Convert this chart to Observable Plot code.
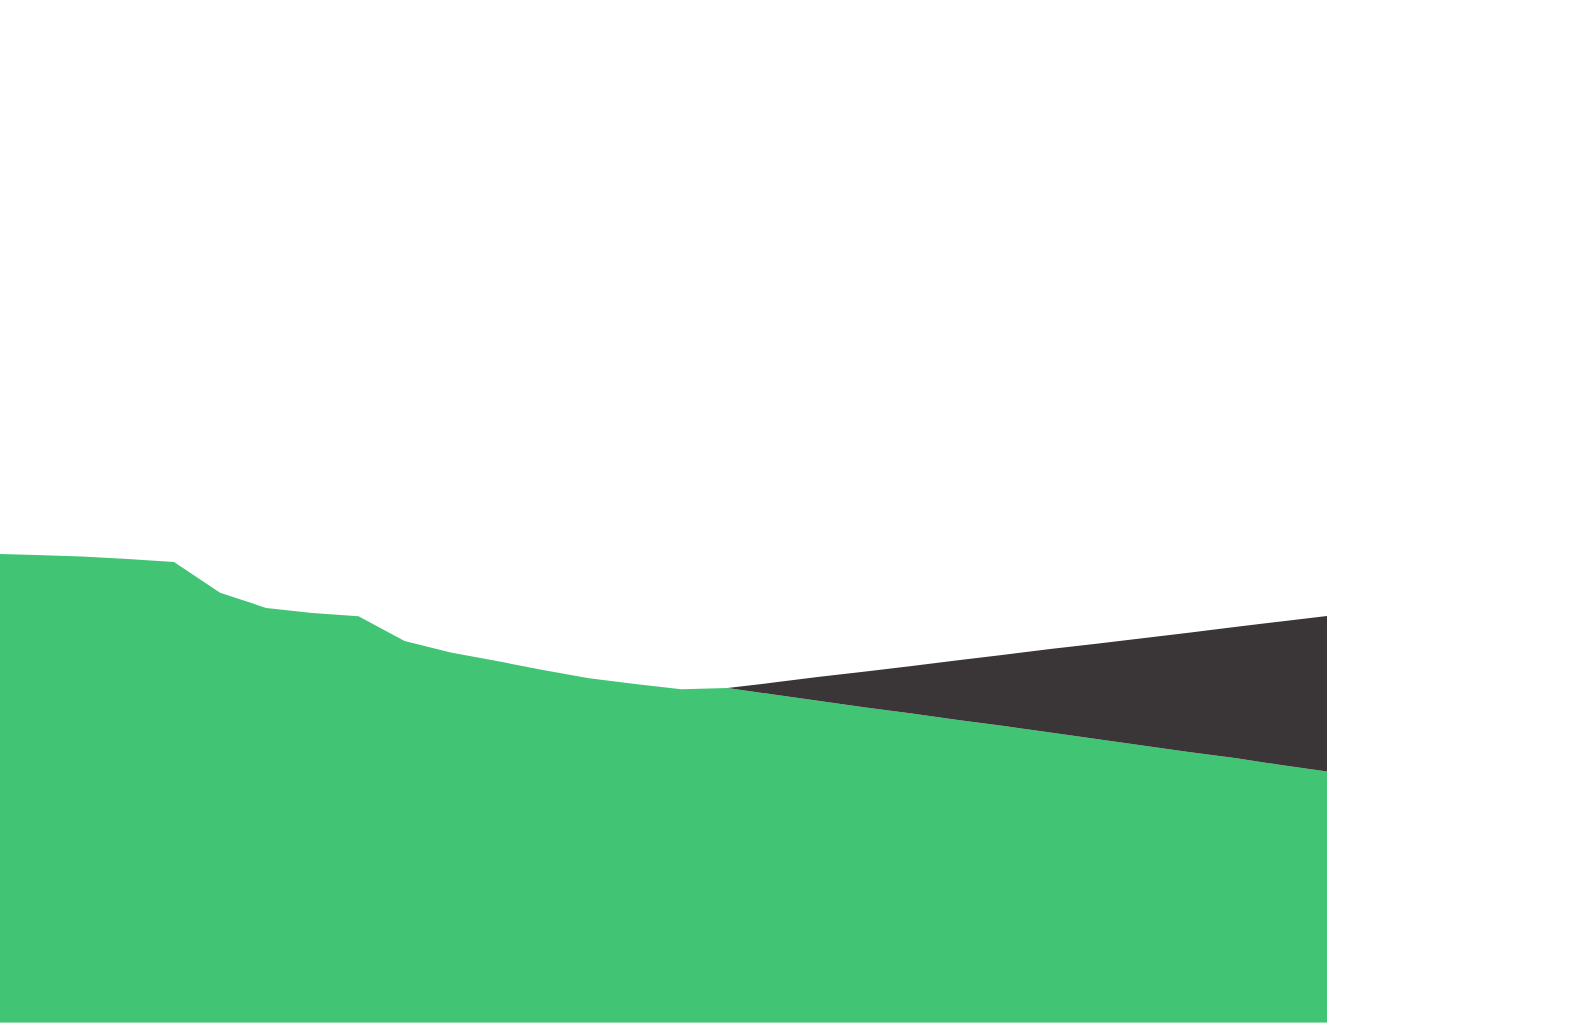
<!DOCTYPE html>
<html>
<head>
<meta charset="utf-8">
<script src="https://cdn.jsdelivr.net/npm/d3@7"></script>
<script src="https://cdn.jsdelivr.net/npm/@observablehq/plot@0.6"></script>
<style>
  html, body { margin: 0; padding: 0; background: #ffffff; }
  #chart svg { display: block; }
</style>
</head>
<body>
<div id="chart"></div>
<script>
const years = [1991,1992,1993,1994,1995,1996,1997,1998,1999,2000,2001,2002,2003,2004,2005,2006,2007,2008,2009,2010,2011,2012,2013,2014,2015,2016,2017,2018,2019,2020];
const greenValues = [45.86,45.73,45.59,45.34,45.05,42.05,40.55,40.06,39.74,37.32,36.20,35.37,34.49,33.68,33.12,32.60,32.73,32.09,31.46,30.82,30.23,29.60,29.01,28.38,27.74,27.10,26.47,25.88,25.20,24.56];
const darkYears = [2007,2008,2009,2010,2011,2012,2013,2014,2015,2016,2017,2018,2019,2020];
const darkValues = [0,1.17,2.36,3.53,4.66,5.84,6.96,8.15,9.32,10.50,11.67,12.80,14.03,15.20];
const seriesNames = ["green", "dark"];
const seriesColors = ["#41c575", "#3a3537"];

const data = [
  ...years.map((year, i) => ({year, value: greenValues[i], series: seriesNames[0]})),
  ...darkYears.map((year, i) => ({year, value: darkValues[i], series: seriesNames[1]}))
];

const chart = Plot.plot({
  width: 1575,
  height: 1024,
  marginLeft: 0,
  marginRight: 248,
  marginTop: 0,
  marginBottom: 1.3,
  clip: true,
  x: {domain: [1991.227, 2020], axis: null},
  y: {domain: [0, 100], axis: null},
  color: {domain: seriesNames, range: seriesColors},
  marks: [
    Plot.areaY(data, {x: "year", y: "value", fill: "series", order: seriesNames, clip: true})
  ]
});
document.getElementById("chart").appendChild(chart);
</script>
</body>
</html>
